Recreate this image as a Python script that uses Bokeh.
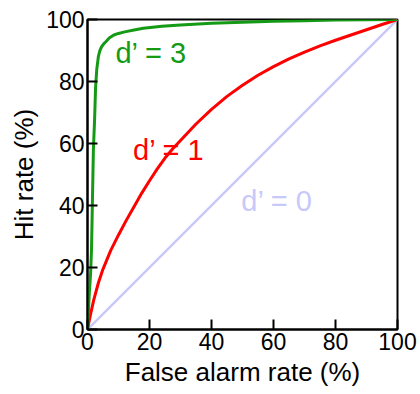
from bokeh.plotting import figure
from bokeh.models import Range1d, FixedTicker
from bokeh.core.properties import value
from bokeh.embed import file_html
from bokeh.resources import INLINE

# False alarm rate (%) and hit rate (%)
fa_d0 = [0, 100]
hit_d0 = [0, 100]

fa_d1 = [0, 1, 2, 3.5, 5, 7.5, 10, 12.5, 15, 17.5, 20, 22.5, 25, 27.5, 30, 35, 40,
         45, 50, 55, 60, 65, 70, 75, 80, 85, 90, 95, 100]
hit_d1 = [0, 5, 9.5, 15, 19.5, 25.5, 30.5, 35.2, 39.6, 44, 48, 51.8, 55.3, 58.3, 61, 66.3, 71,
          75.2, 78.8, 82, 84.8, 87.3, 89.5, 91.5, 93.3, 95, 96.7, 98.4, 100]

fa_d3 = [0, 0.3, 0.6, 1.0, 1.3, 1.6, 1.9, 2.3, 2.6, 3.0, 3.5, 4.0, 4.6, 5.3, 6, 7,
         8.5, 10, 12, 15, 18, 24, 30, 40, 50, 60, 70, 80, 90, 100]
hit_d3 = [0, 6, 12, 18, 26, 42, 58, 68, 78, 84, 88, 90, 91.3, 92.2, 92.9, 94,
          95, 95.5, 96, 96.6, 97.2, 97.8, 98.2, 98.8, 99.1, 99.4, 99.6, 99.8, 99.9, 100]

label_texts = ["d’ = 3", "d’ = 1", "d’ = 0"]
label_x = [9, 14.7, 49.6]
label_y = [89.2, 57.8, 41.6]

ticks = [0, 20, 40, 60, 80, 100]

GREEN = "#159a15"
RED = "#ff0000"
LAV = "#c8c8fa"
FONT = "Liberation Sans"

p = figure(width=420, height=394, output_backend="svg", toolbar_location=None,
           x_range=Range1d(0, 100), y_range=Range1d(0, 100),
           min_border_left=87, min_border_right=23, min_border_top=19, min_border_bottom=65)

p.xgrid.visible = False
p.ygrid.visible = False
p.outline_line_color = "black"
p.outline_line_width = 2
p.outline_line_alpha = 1

for ax in (p.xaxis[0], p.yaxis[0]):
    ax.ticker = FixedTicker(ticks=ticks)
    ax.axis_line_color = "black"
    ax.axis_line_width = 2
    ax.major_tick_line_color = "black"
    ax.major_tick_line_width = 2
    ax.major_tick_in = 10
    ax.major_tick_out = 0
    ax.minor_tick_line_color = None
    ax.major_label_text_font = FONT
    ax.major_label_text_font_size = "23px"
    ax.major_label_text_color = "black"
    ax.major_label_standoff = 3
    ax.axis_label_text_font = FONT
    ax.axis_label_text_font_size = "26px"
    ax.axis_label_text_font_style = "normal"
    ax.axis_label_text_color = "black"
    ax.axis_label_standoff = 4

p.xaxis.axis_label = "False alarm rate (%)"
p.yaxis.axis_label = "Hit rate (%)"

p.line(fa_d0, hit_d0, line_color=LAV, line_width=2.5)
p.line(fa_d1, hit_d1, line_color=RED, line_width=3, line_join="round")
p.line(fa_d3, hit_d3, line_color=GREEN, line_width=3, line_join="round")

p.text(x=label_x, y=label_y, text=label_texts,
       text_color=[GREEN, RED, LAV],
       text_font=value(FONT), text_font_size="29px",
       text_align="left", text_baseline="middle")

open("out.html", "w").write(file_html(p, INLINE))
